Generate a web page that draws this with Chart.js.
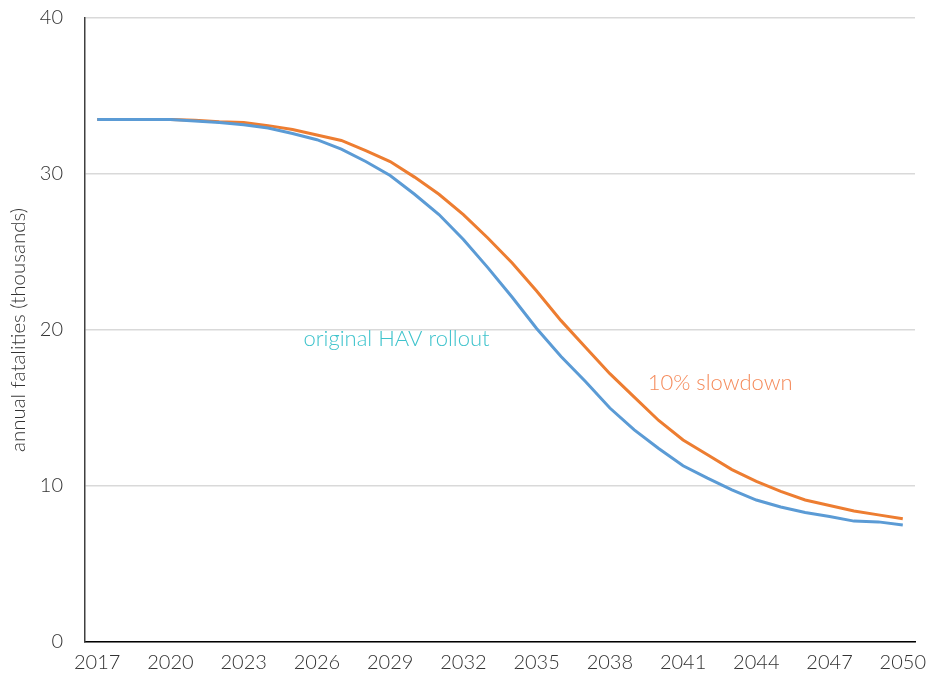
<!DOCTYPE html>
<html>
<head>
<meta charset="utf-8">
<script src="https://cdn.jsdelivr.net/npm/chart.js@4"></script>
<style>
  html, body { margin: 0; padding: 0; background: #fff; }
  #wrap { width: 931px; height: 683px; }
</style>
</head>
<body>
<div id="wrap"><canvas id="chart" width="931" height="683"></canvas></div>
<script>
// years 2017..2050
const years = ['2017', '2018', '2019', '2020', '2021', '2022', '2023', '2024', '2025', '2026',
  '2027', '2028', '2029', '2030', '2031', '2032', '2033', '2034', '2035', '2036',
  '2037', '2038', '2039', '2040', '2041', '2042', '2043', '2044', '2045', '2046',
  '2047', '2048', '2049', '2050']

// annual fatalities, thousands
const originalRollout = [33.5, 33.5, 33.5, 33.5, 33.4, 33.3, 33.15, 32.95, 32.6, 32.2,
  31.6, 30.8, 29.9, 28.7, 27.4, 25.8, 24.0, 22.1, 20.1, 18.3,
  16.7, 15.0, 13.6, 12.4, 11.3, 10.5, 9.75, 9.1, 8.65, 8.3,
  8.05, 7.75, 7.7, 7.5]

const slowdown = [33.5, 33.5, 33.5, 33.5, 33.45, 33.35, 33.3, 33.1, 32.85, 32.5,
  32.15, 31.5, 30.8, 29.8, 28.7, 27.4, 25.9, 24.3, 22.5, 20.6,
  18.9, 17.2, 15.7, 14.2, 12.95, 12.0, 11.05, 10.3, 9.65, 9.1,
  8.75, 8.4, 8.15, 7.9]

const yTicks = [0, 10, 20, 30, 40]

// text labels placed in data units: [category index, value, text, colour]
const notes = [
  [8.45, 19.4, 'original HAV rollout', '#3ec3cc'],
  [22.55, 16.6, '10% slowdown', '#f58a5a']
]

const FONT = 'Lato'

// 图上的注释文字
const notesPlugin = {
  id: 'notes',
  afterDatasetsDraw: (chart) => {
    const { ctx, scales } = chart
    ctx.save()
    ctx.font = `300 22px ${FONT}`
    ctx.textBaseline = 'middle'
    ctx.textAlign = 'left'
    notes.forEach(([xi, yv, text, color]) => {
      ctx.fillStyle = color
      ctx.fillText(text, scales.x.getPixelForValue(xi), scales.y.getPixelForValue(yv))
    })
    ctx.restore()
  }
}

new Chart(document.getElementById('chart').getContext('2d'), {
  type: 'line',
  data: {
    labels: years,
    datasets: [
      {
        label: 'original HAV rollout',
        data: originalRollout,
        borderColor: '#5b9bd5',
        borderWidth: 3,
        pointRadius: 0,
        tension: 0
      },
      {
        label: '10% slowdown',
        data: slowdown,
        borderColor: '#ed7d31',
        borderWidth: 3,
        pointRadius: 0,
        tension: 0
      }
    ]
  },
  options: {
    responsive: false,
    animation: false,
    layout: { padding: { left: 0, right: 16, top: 18, bottom: 0 } },
    plugins: {
      legend: { display: false },
      tooltip: { enabled: false }
    },
    scales: {
      x: {
        offset: true,
        grid: { display: false, drawTicks: false },
        border: { color: '#000', width: 1.5 },
        afterFit: (scale) => {
          scale.height = 41
          scale.paddingLeft = 0
          scale.paddingRight = 0
        },
        ticks: {
          autoSkip: false,
          maxRotation: 0,
          padding: 9,
          color: '#333',
          font: { family: FONT, size: 20, weight: 300 },
          callback: function (value, index) {
            return index % 3 === 0 ? this.getLabelForValue(value) : ''
          }
        }
      },
      y: {
        min: 0,
        max: 40,
        afterBuildTicks: (scale) => { scale.ticks = yTicks.map(v => ({ value: v })) },
        afterFit: (scale) => {
          scale.width = 85
          scale.paddingTop = 0
          scale.paddingBottom = 0
        },
        grid: { color: '#d9d9d9', lineWidth: 1.5, drawTicks: false },
        border: { color: '#404040', width: 1.5 },
        ticks: {
          padding: 22,
          color: '#333',
          font: { family: FONT, size: 20, weight: 300 }
        },
        title: {
          display: true,
          text: 'annual fatalities (thousands)',
          color: '#333',
          padding: { top: 6, bottom: 0 },
          font: { family: FONT, size: 20.5, weight: 300 }
        }
      }
    }
  },
  plugins: [notesPlugin]
})
</script>
</body>
</html>
